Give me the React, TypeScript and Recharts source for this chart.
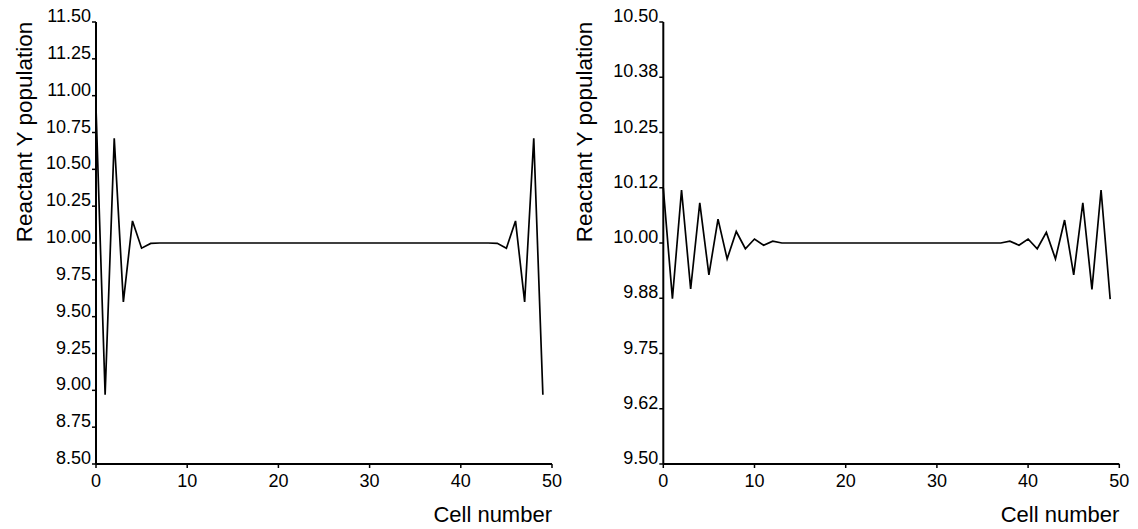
import React from 'react';
import { LineChart, Line, XAxis, YAxis, Label } from 'recharts';

// ---- data ----
const cells: number[] = Array.from({ length: 50 }, (_, i) => i);

const leftValues: number[] = [
  10.92, 8.97, 10.71, 9.6, 10.15, 9.965, 9.997, 10.0, 10.0, 10.0,
  10.0, 10.0, 10.0, 10.0, 10.0, 10.0, 10.0, 10.0, 10.0, 10.0,
  10.0, 10.0, 10.0, 10.0, 10.0, 10.0, 10.0, 10.0, 10.0, 10.0,
  10.0, 10.0, 10.0, 10.0, 10.0, 10.0, 10.0, 10.0, 10.0, 10.0,
  10.0, 10.0, 10.0, 10.0, 9.998, 9.965, 10.15, 9.6, 10.71, 8.97,
];

const rightValues: number[] = [
  10.124, 9.874, 10.12, 9.896, 10.091, 9.928, 10.054, 9.964, 10.026, 9.987,
  10.009, 9.995, 10.004, 10.0, 10.0, 10.0, 10.0, 10.0, 10.0, 10.0,
  10.0, 10.0, 10.0, 10.0, 10.0, 10.0, 10.0, 10.0, 10.0, 10.0,
  10.0, 10.0, 10.0, 10.0, 10.0, 10.0, 10.0, 10.0, 10.004, 9.995,
  10.009, 9.987, 10.024, 9.964, 10.052, 9.928, 10.091, 9.895, 10.12, 9.873,
];

const xTicks: number[] = [0, 10, 20, 30, 40, 50];

const leftYTicks: number[] = [8.5, 8.75, 9.0, 9.25, 9.5, 9.75, 10.0, 10.25, 10.5, 10.75, 11.0, 11.25, 11.5];
const leftYLabels: string[] = ['8.50', '8.75', '9.00', '9.25', '9.50', '9.75', '10.00', '10.25', '10.50', '10.75', '11.00', '11.25', '11.50'];

const rightYTicks: number[] = [9.5, 9.625, 9.75, 9.875, 10.0, 10.125, 10.25, 10.375, 10.5];
const rightYLabels: string[] = ['9.50', '9.62', '9.75', '9.88', '10.00', '10.12', '10.25', '10.38', '10.50'];

const yTitle = 'Reactant Y population';
const xTitle = 'Cell number';

const leftData = cells.map((c, i) => ({ cell: c, y: leftValues[i] }));
const rightData = cells.map((c, i) => ({ cell: c, y: rightValues[i] }));

const FONT = '"Liberation Sans", Arial, Helvetica, sans-serif';

function makeYTick(ticks: number[], labels: string[]) {
  return (props: any) => {
    const { x, y, payload } = props;
    const idx = ticks.findIndex((t) => Math.abs(t - payload.value) < 1e-9);
    const label = idx >= 0 ? labels[idx] : String(payload.value);
    return (
      <text x={x} y={y} textAnchor="end" fontSize={18} fontFamily={FONT} fill="#000">
        {label}
      </text>
    );
  };
}

const yTitleContent = (props: any) => {
  const vb = props.viewBox || { x: 0, y: 0 };
  const cx = vb.x + 32;
  const cy = 132;
  return (
    <text
      x={cx}
      y={cy}
      transform={`rotate(-90, ${cx}, ${cy})`}
      textAnchor="middle"
      fontSize={22.5}
      fontFamily={FONT}
      fill="#000"
    >
      {yTitle}
    </text>
  );
};

const xTitleContent = (props: any) => {
  const vb = props.viewBox || { x: 0, y: 0, width: 0 };
  return (
    <text
      x={vb.x + vb.width}
      y={522}
      textAnchor="end"
      fontSize={22}
      fontFamily={FONT}
      fill="#000"
    >
      {xTitle}
    </text>
  );
};

function Panel(props: {
  data: { cell: number; y: number }[];
  width: number;
  yAxisWidth: number;
  rightMargin: number;
  domain: [number, number];
  ticks: number[];
  labels: string[];
}) {
  const { data, width, yAxisWidth, rightMargin, domain, ticks, labels } = props;
  return (
    <LineChart
      width={width}
      height={529}
      data={data}
      margin={{ top: 22, right: rightMargin, bottom: 0, left: 0 }}
    >
      <XAxis
        dataKey="cell"
        type="number"
        domain={[0, 50]}
        ticks={xTicks}
        height={65}
        axisLine={{ stroke: '#000', strokeWidth: 2 }}
        tickLine={{ stroke: '#000', strokeWidth: 1.5 }}
        tickSize={4}
        tickMargin={6}
        tick={{ fill: '#000', fontSize: 18, fontFamily: FONT }}
        interval={0}
      >
        <Label content={xTitleContent} />
      </XAxis>
      <YAxis
        type="number"
        domain={domain}
        ticks={ticks}
        width={yAxisWidth}
        axisLine={{ stroke: '#000', strokeWidth: 2 }}
        tickLine={{ stroke: '#000', strokeWidth: 1.5 }}
        tickSize={4}
        tickMargin={1}
        tick={makeYTick(ticks, labels)}
        interval={0}
        allowDataOverflow
      >
        <Label content={yTitleContent} />
      </YAxis>
      <Line
        type="linear"
        dataKey="y"
        stroke="#000"
        strokeWidth={1.7}
        dot={false}
        isAnimationActive={false}
      />
    </LineChart>
  );
}

export default function App() {
  return (
    <div
      style={{
        position: 'absolute',
        left: 0,
        top: 0,
        width: 1138,
        height: 529,
        background: '#fff',
        fontFamily: FONT,
      }}
    >
      <div style={{ position: 'absolute', left: 0, top: 0 }}>
        <Panel
          data={leftData}
          width={575}
          yAxisWidth={96}
          rightMargin={23}
          domain={[8.5, 11.5]}
          ticks={leftYTicks}
          labels={leftYLabels}
        />
      </div>
      <div style={{ position: 'absolute', left: 560, top: 0 }}>
        <Panel
          data={rightData}
          width={578}
          yAxisWidth={103.3}
          rightMargin={18.7}
          domain={[9.5, 10.5]}
          ticks={rightYTicks}
          labels={rightYLabels}
        />
      </div>
    </div>
  );
}
